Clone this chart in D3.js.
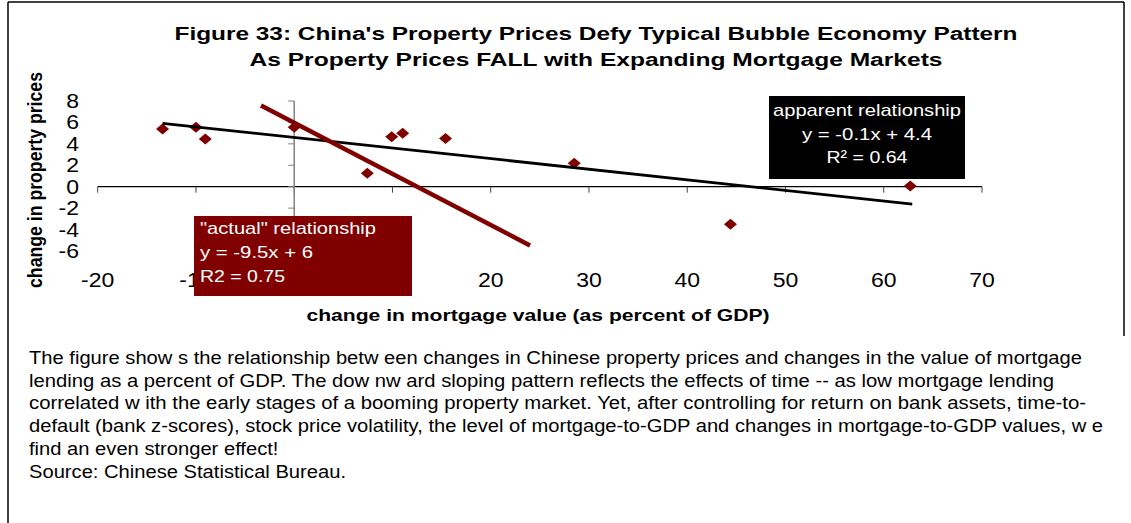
<!DOCTYPE html>
<html>
<head>
<meta charset="utf-8">
<script src="https://cdn.jsdelivr.net/npm/d3@7"></script>
<style>
  html,body{margin:0;padding:0;background:#fff;}
  svg{display:block;font-family:"Liberation Sans",Arial,sans-serif;}
</style>
</head>
<body>
<svg id="chart" width="1131" height="523"></svg>
<script>
// ---- data ----
const title_lines=["Figure 33: China's Property Prices Defy Typical Bubble Economy Pattern",
                   "As Property Prices FALL with Expanding Mortgage Markets"];
const x_title="change in mortgage value (as percent of GDP)";
const y_title="change in property prices";
const x_ticks=[-20,-10,0,10,20,30,40,50,60,70];
const y_ticks=[8,6,4,2,0,-2,-4,-6];

// scatter points: change in mortgage/GDP, change in property prices
const mortgage_change=[-13.4,-10.0,-9.05,0.0,7.44,9.92,11.04,15.4,28.5,44.4,62.7];
const price_change   =[5.39,5.55,4.46,5.55,1.25,4.67,4.99,4.49,2.19,-3.51,0.07];

// fitted lines (end points)
const apparent_line=[[-13.4,5.92],[62.9,-1.62]];
const actual_line=[[-3.38,7.57],[24.0,-5.48]];

const apparent_label=["apparent relationship","y = -0.1x + 4.4","R\u00B2 = 0.64"];
const actual_label=["\"actual\" relationship","y = -9.5x + 6","R2 = 0.75"];

const caption_lines=[
  "The figure show s the relationship betw een changes in Chinese property prices and changes in the value of mortgage",
  "lending as a percent of GDP. The dow nw ard sloping pattern reflects the effects of time -- as low  mortgage lending",
  "correlated w ith the early stages of a booming property market. Yet, after controlling for return on bank assets, time-to-",
  "default (bank z-scores), stock price volatility, the level of mortgage-to-GDP and changes in mortgage-to-GDP values, w e",
  "find an even stronger effect!",
  "Source: Chinese Statistical Bureau."
];

const svg=d3.select("#chart");
const dark_red="#800000";

// horizontal stretch of text (picture looks widened)
function stretch(sel,factor){
    sel.each(function(){
        const len=this.getComputedTextLength();
        d3.select(this).attr("textLength",len*factor).attr("lengthAdjust","spacingAndGlyphs");
    });
}
function fit(sel,w){
    sel.attr("textLength",w).attr("lengthAdjust","spacingAndGlyphs");
}

// frame
svg.append("line").attr("x1",8).attr("y1",2).attr("x2",1124).attr("y2",2).attr("stroke","#000").attr("stroke-width",1.5);
svg.append("line").attr("x1",8).attr("y1",2).attr("x2",8).attr("y2",523).attr("stroke","#000").attr("stroke-width",1.5);
svg.append("line").attr("x1",1124).attr("y1",2).attr("x2",1124).attr("y2",336).attr("stroke","#000").attr("stroke-width",1.5);

// title
const title_widths=[843,693];
title_lines.forEach((t,i)=>{
    svg.append("text")
        .attr("x",596)
        .attr("y",40+i*26)
        .attr("text-anchor","middle")
        .attr("font-size",18)
        .attr("font-weight","bold")
        .text(t)
        .call(fit,title_widths[i]);
});

// scales
const x=d3.scaleLinear().domain([-20,70]).range([97.7,982]);
const y=d3.scaleLinear().domain([-8,8]).range([272.4,101]);

// x axis (at y=0)
const plot=svg.append("g");
plot.append("line")
    .attr("x1",x(-20)).attr("x2",x(70))
    .attr("y1",y(0)).attr("y2",y(0))
    .attr("stroke","#000").attr("stroke-width",1.3);
for(const t of x_ticks){
    plot.append("line")
        .attr("x1",x(t)).attr("x2",x(t))
        .attr("y1",y(0)).attr("y2",y(0)+6)
        .attr("stroke","#444").attr("stroke-width",1);
}

// y axis (at x=0)
plot.append("line")
    .attr("x1",x(0)).attr("x2",x(0))
    .attr("y1",y(8)).attr("y2",y(-8))
    .attr("stroke","#808080").attr("stroke-width",1.5);
for(const t of y_ticks){
    plot.append("line")
        .attr("x1",x(0)-6).attr("x2",x(0))
        .attr("y1",y(t)).attr("y2",y(t))
        .attr("stroke","#808080").attr("stroke-width",1);
}

// tick labels
const x_labels=svg.append("g");
for(const t of x_ticks){
    x_labels.append("text")
        .attr("x",x(t))
        .attr("y",287)
        .attr("text-anchor","middle")
        .attr("font-size",19.5)
        .text(t);
}
x_labels.selectAll("text").call(stretch,1.18);

const y_labels=svg.append("g");
for(const t of y_ticks){
    y_labels.append("text")
        .attr("x",79)
        .attr("y",y(t)+7)
        .attr("text-anchor","end")
        .attr("font-size",19.5)
        .text(t);
}
y_labels.selectAll("text").call(stretch,1.18);

// axis titles
svg.append("text")
    .attr("x",538)
    .attr("y",321)
    .attr("text-anchor","middle")
    .attr("font-size",17)
    .attr("font-weight","bold")
    .text(x_title)
    .call(fit,463);

svg.append("text")
    .attr("transform","translate(41.5,180) scale(1.2,1) rotate(-90)")
    .attr("text-anchor","middle")
    .attr("font-size",16.5)
    .attr("font-weight","bold")
    .text(y_title)
    .call(fit,216);

// points
const points=mortgage_change.map((v,i)=>[v,price_change[i]]);
svg.append("g").selectAll("path")
    .data(points)
    .join("path")
    .attr("d",d=>{
        const cx=x(d[0]),cy=y(d[1]);
        return `M${cx},${cy-5.5}L${cx+6.5},${cy}L${cx},${cy+5.5}L${cx-6.5},${cy}Z`;
    })
    .attr("fill",dark_red);

// fitted lines
const line=d3.line().x(d=>x(d[0])).y(d=>y(d[1]));
svg.append("path").attr("d",line(apparent_line))
    .attr("fill","none").attr("stroke","#000").attr("stroke-width",2.8);
svg.append("path").attr("d",line(actual_line))
    .attr("fill","none").attr("stroke",dark_red).attr("stroke-width",4.5);

// "actual" relationship box
svg.append("rect")
    .attr("x",194).attr("y",216)
    .attr("width",218).attr("height",80)
    .attr("fill",dark_red);
const actual_widths=[176,113,85];
actual_label.forEach((t,i)=>{
    svg.append("text")
        .attr("x",200)
        .attr("y",234+i*24.2)
        .attr("font-size",17)
        .attr("fill","#fff")
        .text(t)
        .call(fit,actual_widths[i]);
});

// apparent relationship box
svg.append("rect")
    .attr("x",769).attr("y",96)
    .attr("width",196).attr("height",83)
    .attr("fill","#000");
const apparent_widths=[188,130,81];
apparent_label.forEach((t,i)=>{
    svg.append("text")
        .attr("x",867)
        .attr("y",116+i*23.7)
        .attr("text-anchor","middle")
        .attr("font-size",17)
        .attr("fill","#fff")
        .text(t)
        .call(fit,apparent_widths[i]);
});

// caption
const caption_widths=[1053,1025,1057,1074];
const cap=svg.append("g");
caption_lines.forEach((t,i)=>{
    cap.append("text")
        .attr("x",29)
        .attr("y",364+i*22.7)
        .attr("font-size",17.5)
        .text(t);
});
const cap_nodes=cap.selectAll("text").nodes();
const cap_factor=caption_widths[0]/cap_nodes[0].getComputedTextLength();
cap_nodes.forEach((n,i)=>{
    const w=i<caption_widths.length?caption_widths[i]:n.getComputedTextLength()*cap_factor;
    d3.select(n).call(fit,w);
});
</script>
</body>
</html>
